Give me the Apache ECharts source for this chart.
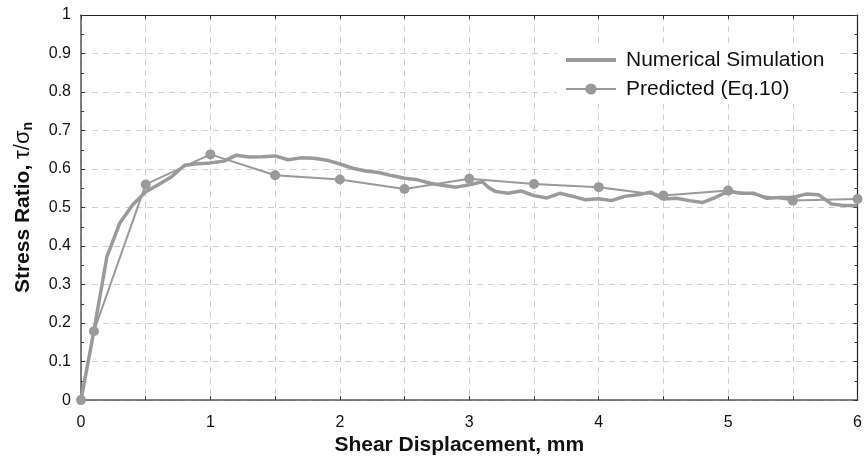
<!DOCTYPE html>
<html>
<head>
<meta charset="utf-8">
<script src="https://cdn.jsdelivr.net/npm/echarts@6/dist/echarts.min.js"></script>
<style>html,body{margin:0;padding:0;background:#fff;}#c{width:865px;height:461px;}</style>
</head>
<body>
<div id="c"></div>
<script>
const simX = [0, 0.1, 0.2, 0.3, 0.4, 0.5, 0.6, 0.7, 0.8, 0.9,
  1.0, 1.1, 1.2, 1.3, 1.4, 1.5, 1.6, 1.7, 1.8, 1.9,
  2.0, 2.1, 2.2, 2.3, 2.4, 2.5, 2.6, 2.7, 2.8, 2.9,
  3.0, 3.1, 3.15, 3.2, 3.3, 3.4, 3.5, 3.6, 3.7, 3.8, 3.9,
  4.0, 4.1, 4.2, 4.3, 4.4, 4.5, 4.6, 4.7, 4.8, 4.9,
  5.0, 5.1, 5.2, 5.3, 5.4, 5.5, 5.6, 5.7, 5.8, 5.9, 6.0];
const simY = [0, 0.18, 0.372, 0.46, 0.507, 0.541, 0.56, 0.58, 0.61, 0.614,
  0.616, 0.62, 0.636, 0.631, 0.632, 0.634, 0.624, 0.629, 0.628, 0.623,
  0.613, 0.602, 0.595, 0.591, 0.583, 0.576, 0.572, 0.563, 0.557, 0.553,
  0.559, 0.567, 0.552, 0.542, 0.537, 0.543, 0.531, 0.525, 0.537, 0.529, 0.52,
  0.523, 0.518, 0.529, 0.533, 0.540, 0.522, 0.524, 0.518, 0.513, 0.526,
  0.542, 0.537, 0.537, 0.524, 0.526, 0.526, 0.535, 0.533, 0.509, 0.505, 0.505];
const predX = [0, 0.1, 0.5, 1, 1.5, 2, 2.5, 3, 3.5, 4, 4.5, 5, 5.5, 6];
const predY = [0, 0.179, 0.560, 0.638, 0.584, 0.573, 0.548, 0.575, 0.561, 0.553, 0.531, 0.544, 0.518, 0.522];
const seriesNames = ['Numerical Simulation', 'Predicted (Eq.10)'];
const xTitle = 'Shear Displacement, mm';

const simData = simX.map((x, i) => [x, simY[i]]);
const predData = predX.map((x, i) => [x, predY[i]]);

const chart = echarts.init(document.getElementById('c'), null, {renderer: 'canvas'});
const font = 'Arial, "Liberation Sans", Helvetica, sans-serif';
const gridLine = {show: true, lineStyle: {color: '#d0d0d0', type: [6, 5], width: 1}};
const tick = {show: true, inside: true, length: 4, lineStyle: {color: '#333'}};
const minor = {show: true, splitNumber: 2, length: 3, lineStyle: {color: '#333'}};
chart.setOption({
  animation: false,
  backgroundColor: '#fff',
  grid: {left: 81, right: 6, top: 15, bottom: 57, containLabel: false},
  legend: {
    orient: 'vertical',
    left: 557, top: 46,
    backgroundColor: '#fff',
    padding: [3, 12, 4, 8],
    itemWidth: 50, itemHeight: 14, itemGap: 7,
    textStyle: {fontFamily: font, fontSize: 21, lineHeight: 22, color: '#111', padding: [0, 0, 0, 5]},
    data: [
      {name: seriesNames[0], icon: 'path://M0,0 L50,0 L50,4 L0,4 Z'},
      {name: seriesNames[1]}
    ]
  },
  xAxis: [{
    type: 'value', min: 0, max: 6, interval: 0.5,
    name: xTitle, nameLocation: 'middle', nameGap: 27,
    nameTextStyle: {fontFamily: font, fontSize: 21, fontWeight: 'bold', color: '#111', padding: [0, 20, 0, 0]},
    axisLine: {show: true, onZero: false, lineStyle: {color: '#555', width: 1.5}},
    axisTick: tick,
    axisLabel: {fontFamily: font, fontSize: 16, color: '#111', margin: 14,
      formatter: v => (Math.abs(v - Math.round(v)) < 1e-9 ? String(Math.round(v)) : '')},
    splitLine: gridLine
  }, {
    type: 'value', min: 0, max: 6, interval: 0.5, position: 'top',
    axisLine: {show: true, onZero: false, lineStyle: {color: '#222', width: 1.2}},
    axisTick: tick, axisLabel: {show: false}, splitLine: {show: false}
  }],
  yAxis: [{
    type: 'value', min: 0, max: 1, interval: 0.1,
    name: '{b|Stress Ratio, }{s|τ/σ}{sub|n}', nameLocation: 'middle', nameGap: 46,
    nameTextStyle: {
      rich: {
        b: {fontFamily: font, fontSize: 21, fontWeight: 'bold', color: '#111'},
        s: {fontFamily: font, fontSize: 22, color: '#111'},
        sub: {fontFamily: font, fontSize: 14, fontWeight: 'bold', color: '#111', padding: [10, 0, 0, 0]}
      }
    },
    axisLine: {show: true, lineStyle: {color: '#555', width: 1.5}},
    axisTick: tick, minorTick: minor,
    axisLabel: {fontFamily: font, fontSize: 16, color: '#111', margin: 10,
      formatter: v => String(Math.round(v * 10) / 10)},
    splitLine: gridLine
  }, {
    type: 'value', min: 0, max: 1, interval: 0.1, position: 'right',
    axisLine: {show: true, onZero: false, lineStyle: {color: '#222', width: 1.2}},
    axisTick: tick, minorTick: minor,
    axisLabel: {show: false}, splitLine: {show: false}
  }],
  series: [
    {
      name: seriesNames[0], type: 'line', data: simData,
      showSymbol: false, symbol: 'none',
      lineStyle: {color: '#9a9a9a', width: 3.5},
      itemStyle: {color: '#9a9a9a'},
      z: 3
    },
    {
      name: seriesNames[1], type: 'line', data: predData,
      symbol: 'circle', symbolSize: 10,
      lineStyle: {color: '#9a9a9a', width: 2},
      itemStyle: {color: '#9a9a9a'},
      z: 4
    }
  ]
});
</script>
</body>
</html>
